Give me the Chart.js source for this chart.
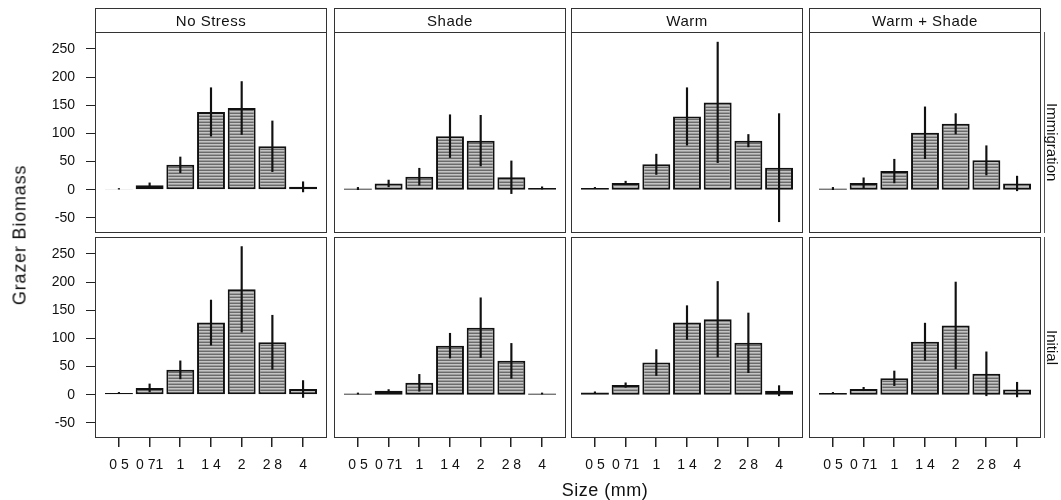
<!DOCTYPE html>
<html>
<head>
<meta charset="utf-8">
<script src="https://cdn.jsdelivr.net/npm/chart.js@4.4.0/dist/chart.umd.min.js"></script>
<style>
  body { margin: 0; background: #fff; }
  #fig { position: relative; width: 1061px; height: 500px; overflow: hidden;
         font-family: "Liberation Sans", Arial, sans-serif; color: #111; }
  #fig canvas { position: absolute; }
  .strip { position: absolute; box-sizing: border-box; border: 1px solid #333;
           text-align: center; font-size: 15px; line-height: 23px; letter-spacing: 0.5px; }
  .side { position: absolute; box-sizing: border-box; border-left: 1px solid #555;
          writing-mode: vertical-rl; text-align: center; font-size: 15px; }
  .title { position: absolute; white-space: nowrap; font-size: 18px; }
</style>
</head>
<body>
<div id="fig"></div>
<script>
const sizes = ["0 5", "0 71", "1", "1 4", "2", "2 8", "4"];
const treatments = ["No Stress", "Shade", "Warm", "Warm + Shade"];
const sources = ["Immigration", "Initial"];
const yTicks = [-50, 0, 50, 100, 150, 200, 250];

// mean grazer biomass by size class
const immNoStress   = [1, 8, 44, 138, 145, 77, 5];
const immShade      = [2, 11, 23, 95, 87, 22, 3];
const immWarm       = [3, 12, 45, 130, 155, 87, 39];
const immWarmShade  = [2, 12, 33, 101, 117, 52, 11];
const iniNoStress   = [3, 12, 44, 128, 187, 93, 10];
const iniShade      = [2, 7, 21, 87, 119, 60, 2];
const iniWarm       = [4, 17, 57, 128, 134, 92, 7];
const iniWarmShade  = [3, 10, 29, 94, 123, 37, 9];

// +/- error
const immNoStressErr  = [1, 4, 14, 43, 47, 45, 9];
const immShadeErr     = [2, 6, 15, 38, 45, 29, 2];
const immWarmErr      = [1, 3, 18, 51, 107, 11, 96];
const immWarmShadeErr = [2, 9, 21, 46, 18, 26, 13];
const iniNoStressErr  = [1, 7, 16, 40, 76, 48, 15];
const iniShadeErr     = [1, 2, 15, 22, 53, 31, 1];
const iniWarmErr      = [1, 4, 23, 30, 67, 53, 9];
const iniWarmShadeErr = [1, 3, 13, 33, 77, 39, 13];

const means = [
  [immNoStress, immShade, immWarm, immWarmShade],
  [iniNoStress, iniShade, iniWarm, iniWarmShade]
];
const errs = [
  [immNoStressErr, immShadeErr, immWarmErr, immWarmShadeErr],
  [iniNoStressErr, iniShadeErr, iniWarmErr, iniWarmShadeErr]
];

const colLeft = [95, 334, 571, 809];
const rowTop = [32, 237];
const panelW = 232, panelH = 201;
const axisW = 70, axisH = 50, padT = 24, padR = 8;
const font = { family: "'Liberation Sans', Arial, sans-serif", size: 14 };

const fig = document.getElementById("fig");

// grey striped fill, like the scanned bars
const pc = document.createElement("canvas");
pc.width = 4; pc.height = 3;
const pctx = pc.getContext("2d");
pctx.fillStyle = "#c4c4c4"; pctx.fillRect(0, 0, 4, 3);
pctx.fillStyle = "#6a6a6a"; pctx.fillRect(0, 0, 4, 1);
pctx.fillStyle = "#9c9c9c"; pctx.fillRect(0, 2, 4, 1);
const stripes = pctx.createPattern(pc, "repeat");

const panelBox = {
  id: "panelBox",
  beforeDatasetsDraw(chart) {
    const { ctx, chartArea: a } = chart;
    ctx.save();
    ctx.strokeStyle = "#333";
    ctx.lineWidth = 1;
    ctx.strokeRect(a.left + 0.5, a.top + 0.5, a.right - a.left - 1, a.bottom - a.top - 1);
    ctx.restore();
  },
  afterDraw(chart) {
    // tick marks under the bottom row
    const xs = chart.scales.x;
    if (!xs.options.display) return;
    const { ctx, chartArea: a } = chart;
    ctx.save();
    ctx.fillStyle = "#222";
    for (let i = 0; i < sizes.length; i++) {
      const px = Math.round(xs.getPixelForValue(i));
      ctx.fillRect(px - 1, a.bottom, 1.5, 9);
    }
    ctx.restore();
  }
};

for (let r = 0; r < 2; r++) {
  for (let c = 0; c < 4; c++) {
    const showY = c === 0, showX = r === 1;
    const cv = document.createElement("canvas");
    cv.width = axisW + panelW + padR;
    cv.height = padT + panelH + axisH;
    cv.style.left = (colLeft[c] - axisW) + "px";
    cv.style.top = (rowTop[r] - padT) + "px";
    fig.appendChild(cv);

    const m = means[r][c], e = errs[r][c];

    const yScale = {
      min: -77, max: 280,
      display: showY,
      afterBuildTicks: axis => { axis.ticks = yTicks.map(v => ({ value: v })); },
      grid: { drawOnChartArea: false, tickLength: 9, color: "#222" },
      border: { display: false },
      ticks: { padding: 11, color: "#111", font: font }
    };
    if (showY) yScale.afterFit = s => { s.width = axisW; };

    const xScale = {
      type: "linear", min: -0.78, max: 6.78, offset: false,
      display: showX,
      afterBuildTicks: axis => { axis.ticks = sizes.map((s, i) => ({ value: i })); },
      grid: { display: false, tickLength: 8 },
      border: { display: false },
      ticks: { padding: 11, color: "#111", font: font, autoSkip: false, maxRotation: 0,
               callback: (v, i) => sizes[i] }
    };
    if (showX) xScale.afterFit = s => { s.height = axisH; };

    new Chart(cv, {
      type: "bar",
      data: {
        datasets: [
          {
            data: m.map((v, i) => ({ x: i, y: [v - e[i], v + e[i]] })),
            backgroundColor: "#111",
            barThickness: 1.5,
            grouped: false,
            order: 0
          },
          {
            data: m.map((v, i) => ({ x: i, y: v })),
            backgroundColor: stripes,
            borderColor: "#111",
            borderWidth: 2,
            borderSkipped: false,
            barPercentage: 0.91,
            categoryPercentage: 1,
            grouped: false,
            order: 1
          }
        ]
      },
      options: {
        responsive: false,
        animation: false,
        layout: { padding: { top: padT, right: padR, left: showY ? 0 : axisW, bottom: showX ? 0 : axisH } },
        plugins: { legend: { display: false }, tooltip: { enabled: false } },
        scales: { x: xScale, y: yScale }
      },
      plugins: [panelBox]
    });

    if (r === 0) {
      const st = document.createElement("div");
      st.className = "strip";
      st.style.left = colLeft[c] + "px";
      st.style.top = "8px";
      st.style.width = panelW + "px";
      st.style.height = "25px";
      st.textContent = treatments[c];
      fig.appendChild(st);
    }
  }
  const sd = document.createElement("div");
  sd.className = "side";
  sd.style.left = "1044px";
  sd.style.top = rowTop[r] + "px";
  sd.style.width = "17px";
  sd.style.height = panelH + "px";
  sd.style.lineHeight = "17px";
  sd.style.paddingTop = "20px";
  sd.textContent = sources[r];
  fig.appendChild(sd);
}

const yt = document.createElement("div");
yt.className = "title";
yt.style.left = "20px";
yt.style.top = "235px";
yt.style.letterSpacing = "0.8px";
yt.style.transform = "translate(-50%, -50%) rotate(-90deg)";
yt.textContent = "Grazer Biomass";
fig.appendChild(yt);

const xt = document.createElement("div");
xt.className = "title";
xt.style.left = "605px";
xt.style.top = "490px";
xt.style.letterSpacing = "0.5px";
xt.style.transform = "translate(-50%, -50%)";
xt.textContent = "Size (mm)";
fig.appendChild(xt);
</script>
</body>
</html>
